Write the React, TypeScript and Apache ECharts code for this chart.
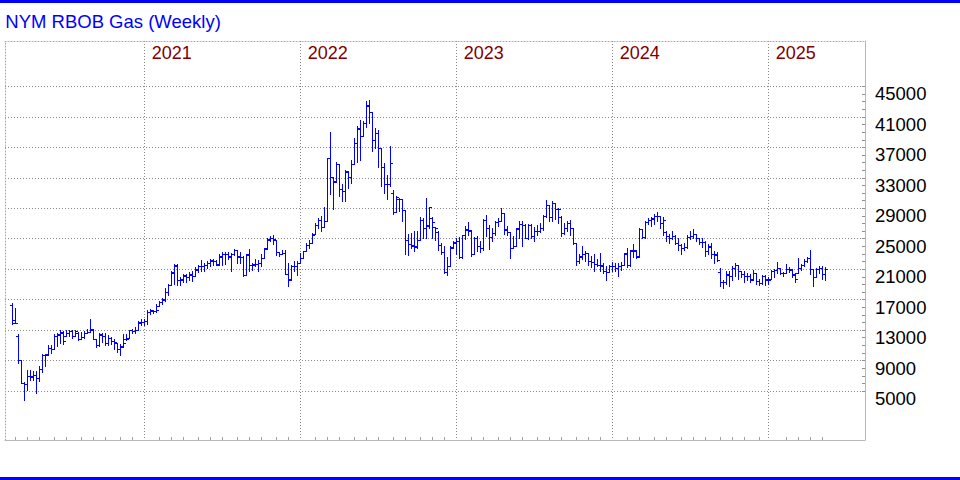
import React, { useEffect, useRef } from 'react';
import * as echarts from 'echarts';

// Weekly OHLC bars, first bar = week ending 2020-02-28
const firstWeekUTC = Date.UTC(2020, 1, 28);

const opens = [
  16200, 14200, 12200, 9000, 6000, 5800, 6850, 6800, 7100, 6700, 7800, 9600, 9700, 10600, 10400, 12100, 12300, 12600, 12200, 12500,
  12800, 12200, 12600, 11800, 12000, 12500, 12700, 13000, 11790, 11000, 12300, 12100, 11300, 11900, 11500, 11200, 10500, 10800, 11700, 11950,
  12900, 12800, 13000, 13900,
  14000, 14100, 15300, 15400, 15500, 16100, 16600, 17000, 17900, 18900, 20500, 21400, 19500, 19600, 20100, 19900, 20200, 20100, 20900, 21300,
  21300, 21500, 21800, 22000, 22000, 21600, 22600, 22900, 22900, 22600, 22900, 23500, 22600, 22500, 20200, 22800, 21500, 21600, 21600, 21800,
  22400, 23700, 24800, 25000, 24800, 23200, 22900, 23100, 20300, 19600, 21300, 21300,
  21800, 22400, 23300, 24100, 24400, 25500, 26800, 27400, 26500, 27300, 35500, 33000, 32500, 34700, 31500, 31200, 33700, 33100, 34700, 37500,
  39400, 38400, 40100, 42400, 41600, 37900, 38800, 36900, 34400, 32100, 32100, 31000, 28500, 30200, 30100, 28700, 24800, 24200, 24000, 23900,
  24800, 27400, 26300, 26700, 27600, 26500, 25800, 24100, 23200, 20600, 21300, 23800,
  24400, 24600, 22500, 25400, 26100, 26000, 22900, 25000, 24000, 23700, 27400, 26400, 25100, 25700, 27200, 27300, 28300, 26100, 25800, 23700,
  24000, 26300, 26900, 26700, 25000, 26700, 25300, 25900, 25900, 26400, 27900, 29400, 27800, 29600, 28800, 27800, 25700, 26400, 27000, 26300,
  24400, 22000, 22600, 22900, 23000, 22000, 21900, 21600, 21500, 21400, 20700, 20600,
  21300, 21300, 21100, 21300, 21500, 23000, 21500, 23400, 23400, 22600, 26200, 25100, 27100, 27400, 27600, 27900, 27900, 27000, 25800, 25300,
  25000, 25300, 24400, 24100, 23700, 23800, 25100, 25300, 25600, 25000, 24500, 24500, 23300, 23900, 22900, 22800, 20600, 19300, 19300, 20200,
  20000, 21100, 21500, 20700, 20300, 20000, 20000, 19600, 20400, 19400, 19100, 20000,
  19600, 19600, 20700, 20800, 21100, 20400, 20400, 21000, 20900, 20200, 20400, 21100, 21500, 22000, 22400, 21000, 19900, 21000, 21100, 20300,
];
const highs = [
  16430, 15860, 12360, 9070, 6090, 7670, 7700, 7600, 7500, 8280, 9730, 9860, 11040, 11040, 12360, 12580, 12930, 12790, 13010, 12930,
  12930, 13010, 12660, 12660, 12790, 13100, 14420, 13100, 11800, 12490, 12490, 12580, 12230, 12050, 11790, 11260, 11170, 12360, 12360, 13010,
  13100, 13360, 14110, 14330,
  14330, 15510, 15730, 15640, 16300, 16820, 17090, 18490, 19010, 20760, 21640, 21640, 19890, 20330, 20240, 20590, 20760, 21200, 21460, 22160,
  21770, 21990, 22210, 22210, 22080, 22950, 23220, 23220, 23220, 23080, 23650, 23520, 23220, 22650, 22950, 23650, 21770, 22210, 22080, 22870,
  23740, 25050, 25270, 25490, 24800, 23220, 23520, 23520, 21770, 21460, 21990, 21990,
  23040, 23350, 24350, 24790, 25670, 26980, 27640, 27860, 29170, 35520, 38940, 33110, 34990, 34730, 32100, 33990, 33770, 35300, 38150, 39680,
  40560, 40340, 43050, 43180, 41650, 39460, 39240, 36920, 34860, 33330, 37180, 31360, 30610, 30260, 30180, 28730, 25540, 25670, 25890, 25890,
  27730, 27640, 30260, 29170, 27730, 26540, 25890, 24350, 23920, 22600, 23920, 24660,
  25050, 25140, 25490, 26590, 27160, 26020, 25140, 25270, 24620, 27590, 28030, 26720, 26370, 27330, 27680, 28910, 28340, 26590, 25800, 25270,
  26370, 27240, 27240, 26890, 26810, 26810, 26460, 26720, 27030, 28030, 29960, 29430, 29870, 29650, 28910, 27900, 27030, 27240, 27460, 26370,
  24400, 22950, 23960, 23300, 23080, 22650, 22870, 22210, 23080, 21770, 21330, 21550,
  21900, 21770, 21770, 21900, 23080, 23740, 23520, 24180, 23520, 26370, 26200, 27240, 27680, 27770, 28120, 28470, 27900, 27770, 25930, 25580,
  25930, 25400, 25050, 24270, 24400, 25400, 25930, 26280, 25600, 25050, 24970, 24700, 24270, 24400, 23300, 23220, 21030, 19580, 20680, 20760,
  21330, 21770, 21550, 20760, 20680, 20460, 20240, 20890, 20460, 19710, 20150, 20150,
  19930, 20890, 20980, 21860, 21100, 20540, 21680, 21240, 20900, 20460, 22430, 21680, 22210, 22560, 23520, 21000, 21110, 21330, 21330, 21240,
];
const lows = [
  13670, 13890, 8550, 6010, 3730, 5070, 6330, 6330, 4690, 6300, 7410, 8200, 9600, 9950, 10400, 10820, 11260, 11170, 12140, 12140,
  11920, 12140, 11610, 11700, 11920, 12490, 12660, 11700, 10740, 10910, 11350, 11040, 11040, 11170, 10470, 10040, 9600, 10740, 11610, 11920,
  12580, 12580, 13010, 13540,
  13580, 13670, 15070, 15160, 15330, 16080, 16300, 16820, 17610, 18900, 19010, 18840, 18840, 19270, 19270, 19450, 19360, 20100, 20590, 20680,
  20760, 21110, 21330, 21550, 21460, 21500, 21460, 21640, 22210, 20680, 22780, 21770, 21770, 20020, 20150, 20760, 20890, 21330, 20760, 21330,
  22400, 23650, 24620, 24270, 22780, 22650, 22870, 20330, 18710, 19580, 20680, 20150,
  21730, 22400, 23260, 23700, 24400, 25500, 26320, 25890, 26500, 27290, 30790, 28860, 32450, 30610, 29830, 29830, 31580, 32240, 34700, 35080,
  35300, 38400, 39550, 40120, 36400, 36830, 34420, 31800, 30920, 30180, 31800, 28160, 28510, 28600, 27290, 22910, 22820, 23700, 23350, 23700,
  24800, 25010, 25010, 26320, 25010, 24790, 23480, 22910, 20410, 20190, 21290, 23700,
  22870, 22430, 22430, 24840, 25490, 22650, 22870, 23300, 23220, 23520, 25270, 23650, 24620, 25490, 26590, 27300, 25580, 25490, 22430, 23700,
  24000, 24970, 23960, 24970, 24840, 25050, 24620, 25490, 25840, 26020, 27770, 27240, 27330, 27590, 27030, 25270, 25580, 25930, 25490, 24270,
  21550, 21770, 22210, 21990, 21550, 21200, 20760, 21330, 20760, 20460, 19580, 20600,
  20760, 20680, 20020, 20890, 21460, 21200, 21330, 22510, 22430, 22510, 25050, 25050, 26810, 26590, 26810, 27240, 26370, 25490, 24620, 24400,
  24840, 24180, 23520, 22950, 23520, 23740, 24840, 25050, 24700, 24270, 23830, 22650, 22950, 22430, 21770, 21990, 18710, 18490, 19010, 18710,
  19580, 20020, 19710, 19890, 19270, 19580, 19270, 19580, 19010, 18920, 19010, 18920,
  19050, 19600, 19930, 20460, 20240, 20100, 20400, 20540, 19930, 19230, 20400, 20890, 21330, 21860, 20240, 18700, 19900, 20460, 19670, 19490,
];
const closes = [
  13930, 13890, 9070, 6010, 5790, 6840, 6850, 7100, 6660, 7760, 9600, 9730, 10600, 10390, 12140, 12360, 12660, 11480, 12580, 12790,
  12140, 12790, 11790, 12050, 12490, 12660, 13100, 11790, 11040, 12360, 12140, 11260, 11920, 11480, 11350, 10470, 10740, 11260, 11790, 12930,
  12790, 13010, 13980, 13980,
  14110, 15330, 15510, 15420, 15640, 16650, 16950, 17960, 18840, 20590, 21550, 19450, 19580, 20150, 19890, 20240, 20020, 20890, 21290, 21330,
  21550, 21770, 22080, 21990, 21550, 22650, 22950, 22950, 22650, 22950, 23520, 22650, 22520, 20150, 22870, 21550, 21550, 21640, 21770, 22430,
  23650, 24840, 24970, 24840, 23220, 22870, 23080, 20330, 19580, 21330, 21330, 21770,
  22380, 23260, 24130, 24350, 25450, 26760, 27420, 26540, 27290, 35520, 33110, 32450, 34730, 31490, 31230, 33770, 33110, 34730, 37490, 39460,
  38370, 40120, 42440, 41650, 37930, 38800, 36920, 34420, 32100, 32100, 34860, 28510, 30480, 30180, 28730, 24790, 24220, 24050, 23920, 24790,
  27420, 26320, 26670, 29040, 27200, 26410, 24130, 23170, 20630, 21290, 23780, 24490,
  24620, 22520, 25410, 26150, 26020, 22950, 25050, 23960, 23740, 27460, 26370, 25140, 25710, 27160, 27240, 28340, 26150, 25840, 23740, 23960,
  26280, 26890, 26720, 25050, 26720, 25270, 25930, 25930, 26370, 27900, 29430, 27770, 29650, 28780, 28780, 25710, 26370, 27030, 26370, 24400,
  21990, 22650, 22870, 23080, 21990, 21900, 21640, 21550, 21460, 20680, 20590, 21330,
  21330, 21110, 21330, 21550, 22950, 21460, 23390, 23390, 22650, 26280, 25140, 27160, 27460, 27590, 27900, 27900, 27030, 27460, 25270, 24970,
  25270, 24400, 24090, 23740, 23830, 25140, 25270, 25580, 25050, 24530, 24530, 23300, 23960, 22950, 22870, 22080, 19270, 19270, 20240, 20020,
  21110, 21550, 20680, 20330, 20020, 20020, 19580, 20460, 19360, 19140, 20020, 19580,
  19580, 20670, 20810, 21110, 20460, 20370, 20980, 20890, 20240, 19670, 21110, 21550, 21990, 22430, 20980, 19930, 20980, 21110, 20240, 20980,
];

const yearLabels = ['2021', '2022', '2023', '2024', '2025'];
const yearStartBars = [44, 96, 148, 200, 252];
const priceLabels = [5000, 9000, 13000, 17000, 21000, 25000, 29000, 33000, 37000, 41000, 45000];

const FONT = 'Liberation Sans, Arial, Helvetica, sans-serif';
const X_MIN = -2.4333;
const X_MAX = 284.2333;
const Y_MIN = -1437;
const Y_MAX = 50977;

export default function App() {
  const ref = useRef<HTMLDivElement>(null);
  useEffect(() => {
    if (!ref.current) return;
    const chart = echarts.init(ref.current, null, { renderer: 'svg' });

    const DAY = 86400000;
    const monthTicks: number[] = [];
    for (let k = 1; k < opens.length; k++) {
      const d = new Date(firstWeekUTC + 7 * k * DAY);
      const p = new Date(firstWeekUTC + 7 * (k - 1) * DAY);
      if (d.getUTCMonth() !== p.getUTCMonth() && d.getUTCMonth() !== 0) monthTicks.push(k);
    }
    const minorY: number[] = [];
    for (let v = priceLabels[0]; v <= priceLabels[priceLabels.length - 1]; v += 1000) minorY.push(v);

    const data = opens.map((o, i) => [i, o, highs[i], lows[i], closes[i]]);

    const dotted = [1, 2];
    chart.setOption({
      animation: false,
      backgroundColor: '#ffffff',
      title: {
        text: 'NYM RBOB Gas (Weekly)',
        left: 5.3,
        top: 12.6,
        padding: 0,
        textStyle: { color: '#0000ff', fontSize: 18.5, fontWeight: 'normal', fontFamily: FONT, lineHeight: 18.5 },
      },
      graphic: [
        { type: 'rect', shape: { x: 0, y: 0, width: 960, height: 3 }, style: { fill: '#0000ff' }, silent: true },
        { type: 'rect', shape: { x: 0, y: 477, width: 960, height: 3 }, style: { fill: '#0000ff' }, silent: true },
      ],
      grid: { left: 5, right: 95, top: 41, bottom: 40, containLabel: false },
      xAxis: [
        {
          type: 'value', min: X_MIN, max: X_MAX, position: 'bottom',
          axisLine: { show: true, onZero: false, lineStyle: { color: '#b8b8b8', width: 1 } },
          axisTick: { show: true, inside: true, length: 3, customValues: monthTicks, lineStyle: { color: '#a0a0a0' } },
          axisLabel: { show: false },
          splitLine: { show: false },
        },
        {
          type: 'value', min: X_MIN, max: X_MAX, position: 'top',
          axisLine: { show: true, onZero: false, lineStyle: { color: '#a8a8a8', type: dotted } },
          axisTick: { show: false, customValues: yearStartBars },
          axisLabel: {
            show: true, inside: true, customValues: yearStartBars,
            formatter: (v: number) => yearLabels[yearStartBars.indexOf(Math.round(v))] || '',
            color: '#800000', fontSize: 18, fontFamily: FONT, align: 'left', verticalAlign: 'middle',
            margin: 11.5, padding: [0, 0, 0, 7.5],
          },
          splitLine: { show: true, lineStyle: { color: '#888888', type: dotted } },
        },
      ],
      yAxis: [
        {
          type: 'value', min: Y_MIN, max: Y_MAX, position: 'right',
          axisLine: { show: true, onZero: false, lineStyle: { color: '#b8b8b8' } },
          axisTick: { show: true, inside: true, length: 3, customValues: minorY, lineStyle: { color: '#909090' } },
          axisLabel: {
            customValues: priceLabels, formatter: (v: number) => String(v),
            color: '#000000', fontSize: 18.5, fontFamily: FONT, margin: 10,
            verticalAlign: 'top', lineHeight: 15,
          },
          splitLine: { show: false },
        },
        {
          type: 'value', min: Y_MIN, max: Y_MAX, position: 'left',
          axisLine: { show: true, onZero: false, lineStyle: { color: '#a8a8a8', type: dotted } },
          axisTick: { show: false, customValues: priceLabels },
          axisLabel: { show: false },
          splitLine: { show: true, lineStyle: { color: '#888888', type: dotted } },
        },
      ],
      series: [
        {
          type: 'custom',
          xAxisIndex: 0,
          yAxisIndex: 0,
          silent: true,
          encode: { x: 0, y: [1, 2, 3, 4] },
          data,
          renderItem: (params: any, api: any) => {
            const k = api.value(0);
            const po = api.coord([k, api.value(1)]);
            const ph = api.coord([k, api.value(2)]);
            const pl = api.coord([k, api.value(3)]);
            const pc = api.coord([k, api.value(4)]);
            const xp = Math.floor(po[0]);
            const x = xp + 0.5;
            const yo = Math.floor(po[1]) + 0.5;
            const yc = Math.floor(pc[1]) + 0.5;
            const style = { stroke: '#0000ff', lineWidth: 1, fill: null };
            return {
              type: 'group',
              children: [
                { type: 'line', shape: { x1: x, y1: Math.floor(ph[1]), x2: x, y2: Math.ceil(pl[1]) }, style },
                { type: 'line', shape: { x1: xp - 2, y1: yo, x2: xp, y2: yo }, style },
                { type: 'line', shape: { x1: xp + 1, y1: yc, x2: xp + 3, y2: yc }, style },
              ],
            };
          },
        },
      ],
    });
    return () => chart.dispose();
  }, []);
  return (
    <div
      ref={ref}
      style={{ position: 'fixed', left: 0, top: 0, width: 960, height: 480, background: '#ffffff' }}
    />
  );
}
